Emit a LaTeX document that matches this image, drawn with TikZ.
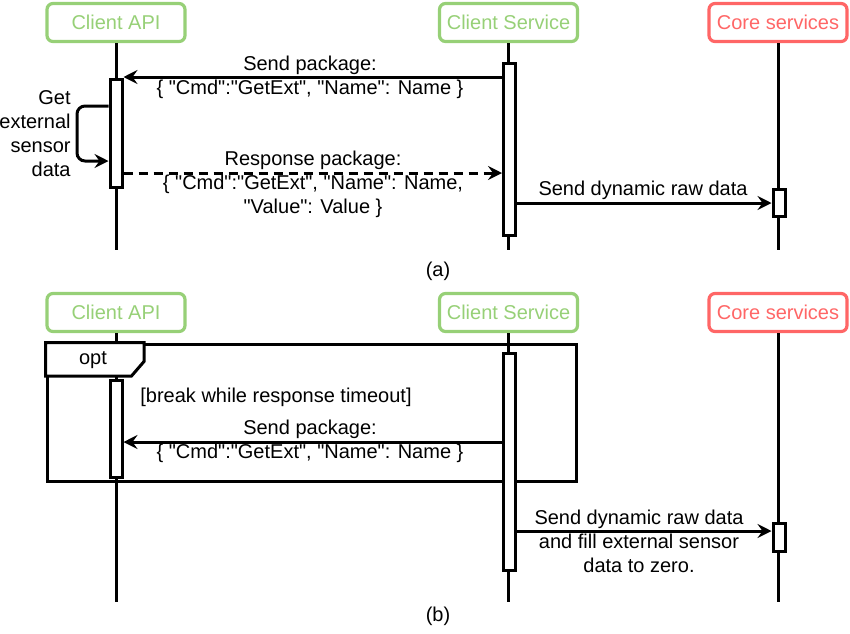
\documentclass[tikz,border=0pt]{standalone}
\usepackage{fontspec}
\setmainfont{Liberation Sans}[Ligatures=TeXOff]
\usetikzlibrary{arrows.meta}
\definecolor{grn}{HTML}{97D077}
\definecolor{rd}{HTML}{FF6666}
\begin{document}
\begin{tikzpicture}[x=0.5pt,y=-0.5pt,
  head/.style={draw=#1, text=#1, line width=1.6pt, rounded corners=3pt, minimum width=69pt, minimum height=19pt, inner sep=0pt, font=\fontsize{10}{12}\selectfont},
  act/.style={draw, fill=white, line width=1.5pt, minimum width=6pt, inner sep=0pt},
  life/.style={line width=1.5pt},
  msg/.style={line width=1.5pt, -{Stealth[length=7pt,width=7pt,inset=2.5pt]}},
  lbl/.style={align=center, inner sep=0pt, font=\fontsize{10}{12}\selectfont},
  frame/.style={draw, line width=1.5pt, inner sep=0pt}]
\useasboundingbox (0,0) rectangle (850,633);
% ---------------- (a) ----------------
\node[head=grn] (apiA) at (116,22.5) {Client API};
\node[head=grn] (csA) at (508.5,22.5) {Client Service};
\node[head=rd] (coreA) at (778,22.5) {Core services};
\coordinate (endA) at (0,250);
\draw[life] (apiA.south) -- (apiA.south |- endA);
\draw[life] (csA.south) -- (csA.south |- endA);
\draw[life] (coreA.south) -- (coreA.south |- endA);
\node[act, minimum height=54pt] (apiActA) at (116,133) {};
\node[act, minimum height=86pt] (csActA) at (509.5,149.5) {};
\node[act, minimum height=13.5pt] (coreActA) at (779,203) {};
\coordinate (m1) at (0,77);
\coordinate (m2) at (0,173);
\coordinate (m3) at (0,203);
\coordinate (s1) at (77,106);
\coordinate (s2) at (77,161);
\draw[msg] (csActA.west |- m1) -- (apiActA.east |- m1);
\draw[msg, dash pattern=on 4.5pt off 3pt] (apiActA.east |- m2) -- (csActA.west |- m2);
\draw[msg] (csActA.east |- m3) -- (coreActA.west |- m3);
\draw[msg, rounded corners=4pt] (apiActA.west |- s1) -- (s1) -- (s2) -- (apiActA.west |- s2);
\node[lbl] (l1) at (310,77) {Send package:\\\{ "Cmd":"GetExt", "Name": Name \}};
\node[lbl] (l2) at (313,184) {Response package:\\\{ "Cmd":"GetExt", "Name": Name,\\"Value": Value \}};
\node[lbl] (l3) at (643,190) {Send dynamic raw data};
\node[lbl, align=right, anchor=east] (l4) at (71,134) {Get\\external\\sensor\\data};
\node[lbl] (capA) at (438,271) {(a)};
% ---------------- (b) ----------------
\node[head=grn] (apiB) at (116,312.5) {Client API};
\node[head=grn] (csB) at (508.5,312.5) {Client Service};
\node[head=rd] (coreB) at (778,312.5) {Core services};
\coordinate (endB) at (0,602);
\draw[life] (apiB.south) -- (apiB.south |- endB);
\draw[life] (csB.south) -- (csB.south |- endB);
\draw[life] (coreB.south) -- (coreB.south |- endB);
\node[frame, minimum width=264.5pt, minimum height=68.5pt] (opt) at (311.5,412.5) {};
\draw[line width=1.5pt, fill=white] (opt.north west) -- ++(98.5,0) -- ++(0,19) -- ++(-12.5,14.5) -- ++(-86,0) -- cycle;
\node[lbl] (optl) at (93,360) {opt};
\node[act, minimum height=48.5pt] (apiActB) at (116,429) {};
\node[act, minimum height=108.5pt] (csActB) at (509,462) {};
\node[act, minimum height=14pt] (coreActB) at (779,537.5) {};
\coordinate (n1) at (0,442);
\coordinate (n2) at (0,531);
\draw[msg] (csActB.west |- n1) -- (apiActB.east |- n1);
\draw[msg] (csActB.east |- n2) -- (coreActB.west |- n2);
\node[lbl, anchor=west] (guard) at (140,397) {[break while response timeout]};
\node[lbl] (l5) at (310,441.5) {Send package:\\\{ "Cmd":"GetExt", "Name": Name \}};
\node[lbl] (l6) at (639,541) {Send dynamic raw data\\and fill external sensor\\data to zero.};
\node[lbl] (capB) at (438,616) {(b)};
\end{tikzpicture}
\end{document}
